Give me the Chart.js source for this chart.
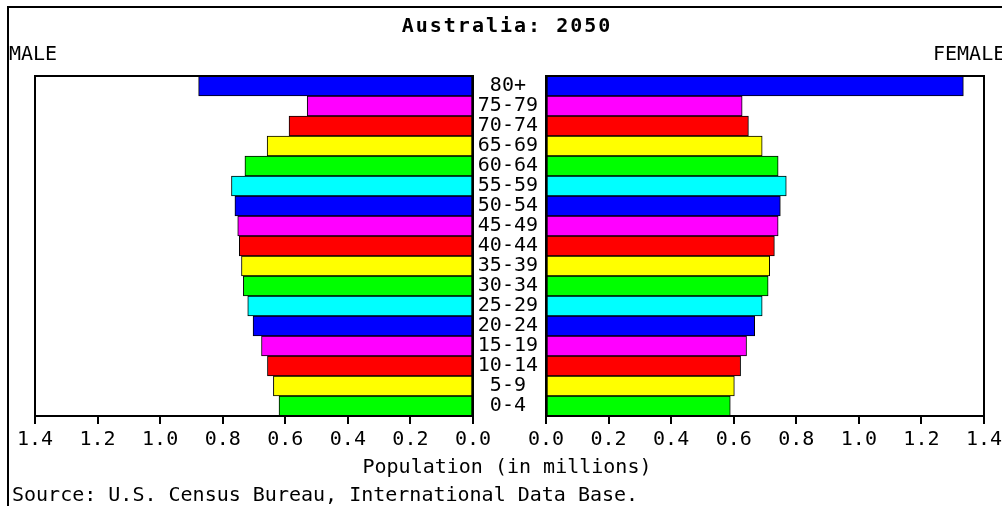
<!DOCTYPE html>
<html>
<head>
<meta charset="utf-8">
<script src="https://cdn.jsdelivr.net/npm/chart.js@4/dist/chart.umd.min.js"></script>
<style>
  html,body{margin:0;padding:0;background:#fff;overflow:hidden;}
  #wrap{position:relative;width:1002px;height:506px;overflow:hidden;font-family:"DejaVu Sans Mono",monospace;color:#000;}
  #wrap canvas{position:absolute;top:0;}
  .txt{position:absolute;white-space:nowrap;font-size:20px;line-height:20px;}
  #frame{position:absolute;left:7px;top:6px;width:1100px;height:600px;border-top:2px solid #000;border-left:2px solid #000;}
</style>
</head>
<body>
<div id="wrap">
  <div id="frame"></div>
  <canvas id="male" width="520" height="506" style="left:0"></canvas>
  <canvas id="female" width="560" height="506" style="left:474px"></canvas>
  <div class="txt" id="title" style="left:0;width:1014px;text-align:center;top:15px;font-weight:bold;letter-spacing:2px">Australia: 2050</div>
  <div class="txt" style="left:9px;top:43px">MALE</div>
  <div class="txt" style="left:933px;top:43px">FEMALE</div>
  <div class="txt" style="left:0;width:1014px;text-align:center;top:456px">Population (in millions)</div>
  <div class="txt" style="left:12px;top:484px">Source: U.S. Census Bureau, International Data Base.</div>
</div>
<script>
/* Пирамида населения Австралии, 2050: мужчины слева, женщины справа. */

const AGE_GROUPS = ["80+","75-79","70-74","65-69","60-64","55-59","50-54","45-49","40-44",
                    "35-39","30-34","25-29","20-24","15-19","10-14","5-9","0-4"];
const MALE   = [0.877,0.530,0.588,0.658,0.729,0.772,0.761,0.752,0.747,0.740,0.734,0.720,0.703,0.676,0.657,0.638,0.620];
const FEMALE = [1.334,0.627,0.647,0.691,0.742,0.768,0.749,0.742,0.730,0.715,0.710,0.691,0.667,0.641,0.622,0.602,0.589];
const X_TICKS = [0,0.2,0.4,0.6,0.8,1.0,1.2,1.4];

const CYCLE = ["#0000ff","#ff00ff","#ff0000","#ffff00","#00ff00","#00ffff"];
const barColors = AGE_GROUPS.map((_,i)=>CYCLE[i%CYCLE.length]);
const FONT = { family:"'DejaVu Sans Mono', monospace", size:20 };

// рамка вокруг области графика
const framePlugin = {
  id:"frame",
  afterDatasetsDraw(chart){
    const { ctx, chartArea:a } = chart;
    ctx.save();
    ctx.strokeStyle="#000"; ctx.lineWidth=2;
    ctx.strokeRect(a.left, a.top, a.right-a.left, a.bottom-a.top);
    ctx.restore();
  }
};

function xScale(reverse){
  return {
    type:"linear", min:0, max:1.4, reverse,
    afterBuildTicks:s=>{ s.ticks = X_TICKS.map(v=>({value:v})); },
    afterFit:s=>{ s.height = 40; },
    grid:{ drawOnChartArea:false, drawTicks:true, tickLength:8, color:"#000", lineWidth:2 },
    border:{ display:true, color:"#000", width:2 },
    ticks:{ color:"#000", font:FONT, padding:4, maxRotation:0, autoSkip:false,
      callback:v=>Number(v).toFixed(1) }
  };
}

function makeChart(id, data, side){
  const isMale = side==="male";
  return new Chart(document.getElementById(id),{
    type:"bar",
    data:{ labels:AGE_GROUPS, datasets:[{
      data, backgroundColor:barColors, borderColor:"#000", borderWidth:1,
      borderSkipped:false, barPercentage:1, categoryPercentage:1
    }]},
    options:{
      indexAxis:"y", responsive:false, animation:false,
      layout:{ padding: isMale ? {left:35, right:47, top:76, bottom:50}
                               : {left:0, right:50, top:76, bottom:50} },
      plugins:{ legend:{display:false}, tooltip:{enabled:false} },
      scales:{
        x:xScale(isMale),
        y: isMale ? { display:false } : {
          position:"left",
          afterFit:s=>{ s.width = 72; },
          grid:{ display:false }, border:{ display:false },
          ticks:{ color:"#000", font:FONT, crossAlign:"center", padding:0, autoSkip:false }
        }
      }
    },
    plugins:[framePlugin]
  });
}

makeChart("male", MALE, "male");
makeChart("female", FEMALE, "female");
</script>
</body>
</html>
